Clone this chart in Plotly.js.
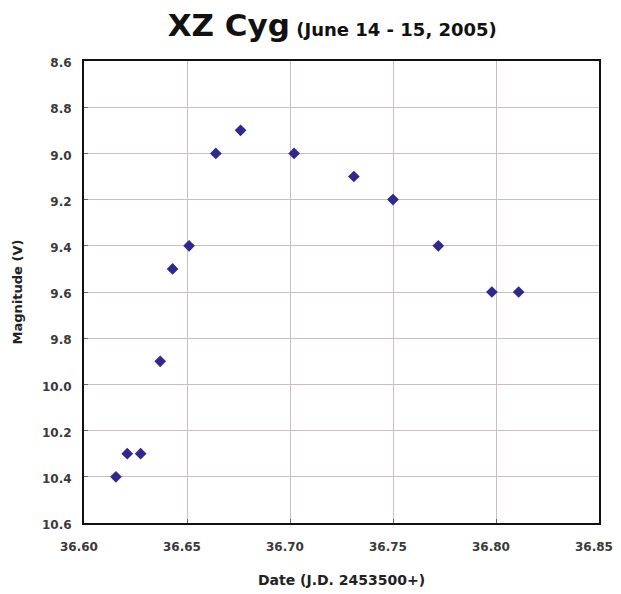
<!DOCTYPE html>
<html><head><meta charset="utf-8">
<script src="https://cdn.plot.ly/plotly-3.0.1.min.js"></script>
<style>html,body{margin:0;padding:0;background:#fff}#c{width:621px;height:594px}</style>
</head><body><div id="c"></div>
<script>
const dates = [36.6155, 36.621, 36.6275, 36.637, 36.643, 36.651, 36.664, 36.676, 36.702, 36.731, 36.750, 36.772, 36.798, 36.811];
const magnitudes = [10.4, 10.3, 10.3, 9.9, 9.5, 9.4, 9.0, 8.9, 9.0, 9.1, 9.2, 9.4, 9.6, 9.6];
const xTickVals = [36.60, 36.65, 36.70, 36.75, 36.80, 36.85];
const xTickText = ['36.60', '36.65', '36.70', '36.75', '36.80', '36.85'];
const yTickVals = [8.6, 8.8, 9.0, 9.2, 9.4, 9.6, 9.8, 10.0, 10.2, 10.4, 10.6];
const yTickText = ['8.6', '8.8', '9.0', '9.2', '9.4', '9.6', '9.8', '10.0', '10.2', '10.4', '10.6'];

const FF = 'DejaVu Sans, sans-serif';
const tickFont = {family: FF, size: 12, color: '#3a3a3a', weight: 'bold'};
const bold = a => a.map(s => '<b>' + s + '</b>');
Plotly.newPlot('c', [{
  x: dates, y: magnitudes, type: 'scatter', mode: 'markers',
  marker: {symbol: 'diamond', size: 9, color: '#30288e'},
  hoverinfo: 'skip'
}], {
  width: 621, height: 594,
  margin: {l: 84, r: 22, t: 61, b: 71},
  paper_bgcolor: '#fff', plot_bgcolor: '#fff',
  showlegend: false,
  title: {text: '<b>XZ Cyg</b><b><span style="font-size:18px"> (June 14 - 15, 2005)</span></b>',
    font: {family: FF, size: 31, color: '#111'},
    x: 0.535, xanchor: 'center', y: 0.976, yanchor: 'top'},
  xaxis: {
    range: [36.60, 36.85], tickvals: xTickVals, ticktext: bold(xTickText),
    tickfont: tickFont, showgrid: true, gridcolor: '#cbbfbf', gridwidth: 1,
    showline: true, mirror: true, linecolor: '#111', linewidth: 2,
    ticks: 'inside', ticklen: 4, tickcolor: '#666', zeroline: false,
    ticklabelstandoff: 12, ticklabelshift: -5,
    title: {text: '<b>Date (J.D. 2453500+)</b>', font: {family: FF, size: 14, color: '#222'}, standoff: 22}
  },
  yaxis: {
    range: [10.6, 8.6], tickvals: yTickVals, ticktext: bold(yTickText),
    tickfont: tickFont, showgrid: true, gridcolor: '#cbbfbf', gridwidth: 1,
    showline: true, mirror: true, linecolor: '#111', linewidth: 2,
    ticks: 'inside', ticklen: 4, tickcolor: '#666', zeroline: false,
    ticklabelstandoff: 8, ticklabelshift: -2,
    title: {text: '<b>Magnitude (V)</b>', font: {family: FF, size: 13, color: '#222'}, standoff: 16}
  }
}, {displayModeBar: false, staticPlot: true});
</script></body></html>
